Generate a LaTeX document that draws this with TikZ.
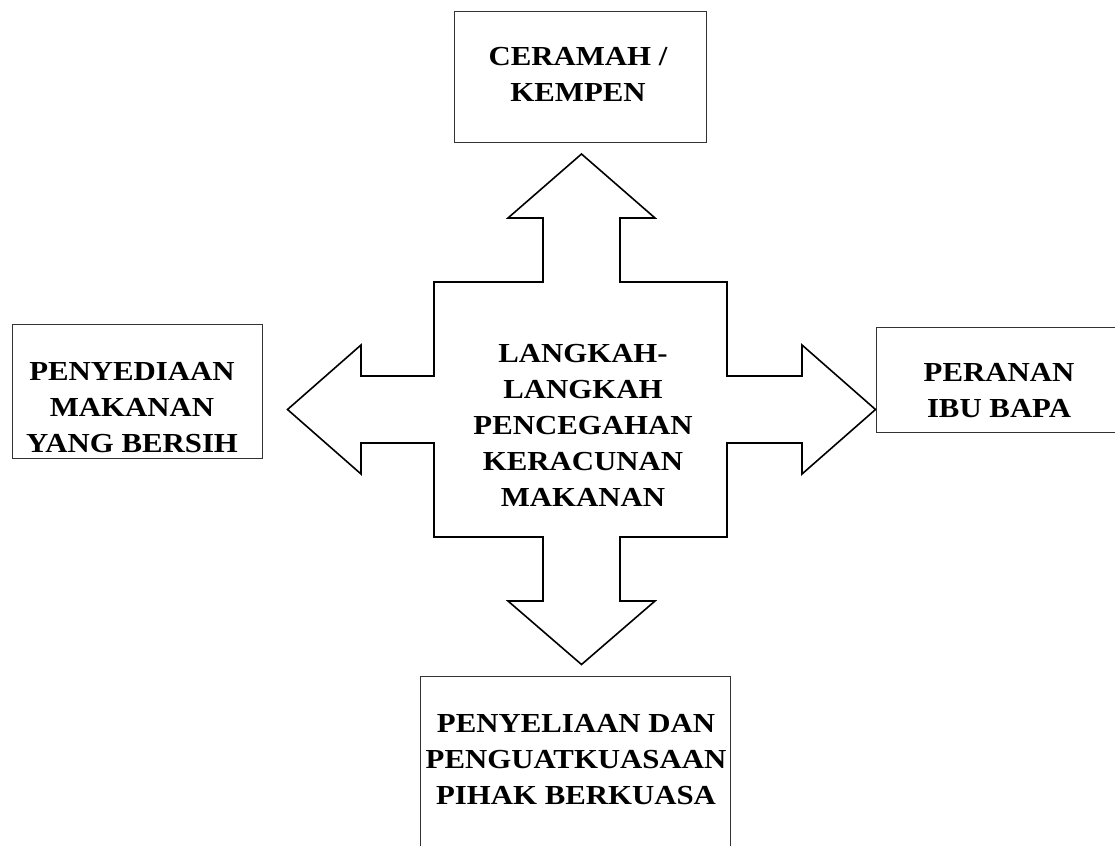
\documentclass[tikz,border=0pt]{standalone}
\usepackage{fontspec}
\setmainfont{Liberation Serif}[FakeStretch=1.12]
\begin{document}
\begin{tikzpicture}[x=1pt,y=-1pt,
  box/.style={draw=black!80,line width=1.3pt,fill=white,rectangle,inner sep=0pt},
  lbl/.style={font=\bfseries\fontsize{27.5}{36}\selectfont,align=center,text=black},
  cross/.style={draw=black,line width=1.6pt,line join=miter}]
\useasboundingbox (0,0) rectangle (1115,845);
\clip (0,0) rectangle (1115,845);
% boxes
\node[box,minimum width=252pt,minimum height=131pt,anchor=north west] (top) at (454,11) {};
\node[box,minimum width=250pt,minimum height=134pt,anchor=north west] (left) at (12,324) {};
\node[box,minimum width=250pt,minimum height=105pt,anchor=north west] (right) at (876,327) {};
\node[box,minimum width=310pt,minimum height=180pt,anchor=north west] (bottom) at (420,676) {};
% texts
\node[lbl] (ttop) at (578,74) {CERAMAH /\\KEMPEN};
\node[lbl] (tleft) at (132,408) {PENYEDIAAN\\MAKANAN\\YANG BERSIH};
\node[lbl] (tright) at (999,391) {PERANAN\\IBU BAPA};
\node[lbl] (tbottom) at (576,760) {PENYELIAAN DAN\\PENGUATKUASAAN\\PIHAK BERKUASA};
% cross arrow
\draw[cross] (581.5,154) -- (655,218) -- (620,218) -- (620,282) -- (727,282) -- (727,376)
  -- (802,376) -- (802,345) -- (875.5,409.5) -- (802,474) -- (802,443) -- (727,443)
  -- (727,537) -- (620,537) -- (620,601) -- (655,601) -- (581.5,664.5) -- (508,601)
  -- (543,601) -- (543,537) -- (434,537) -- (434,443) -- (361,443) -- (361,474)
  -- (287.5,409.5) -- (361,345) -- (361,376) -- (434,376) -- (434,282) -- (543,282)
  -- (543,218) -- (508,218) -- cycle;
\node[lbl] (center) at (583,425) {LANGKAH-\\LANGKAH\\PENCEGAHAN\\KERACUNAN\\MAKANAN};
\end{tikzpicture}
\end{document}
